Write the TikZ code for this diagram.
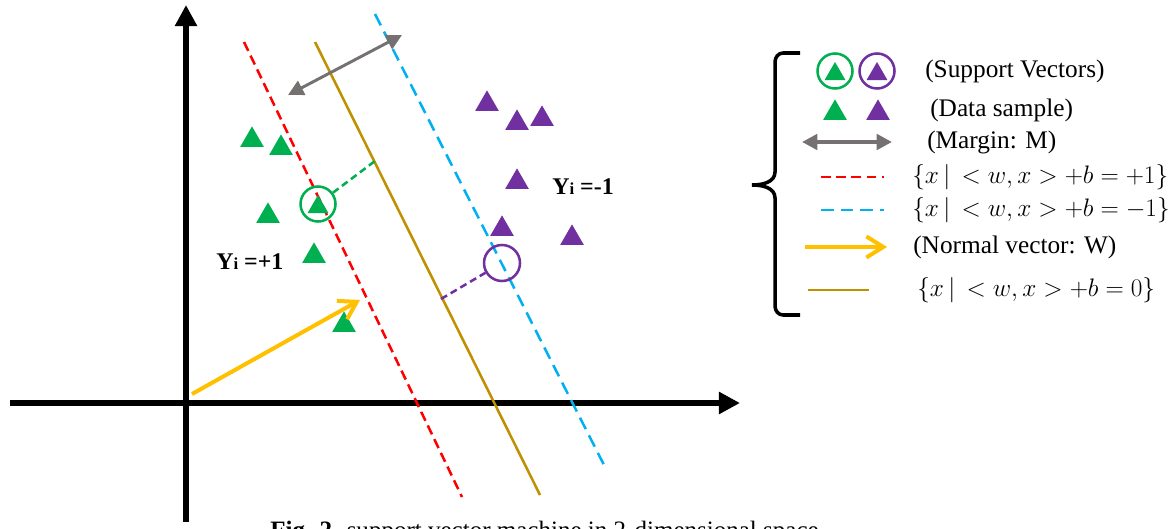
\RequirePackage{fix-cm}
\documentclass[tikz,border=0pt]{standalone}
\usepackage{fontspec}
\setmainfont{Liberation Serif}
\usepackage{tikz}
\usetikzlibrary{arrows.meta,shapes.geometric}
\definecolor{svmgreen}{HTML}{00B050}
\definecolor{svmpurple}{HTML}{7030A0}
\definecolor{svmblue}{HTML}{00B0F0}
\definecolor{svmgold}{HTML}{BF9000}
\definecolor{svmyellow}{HTML}{FFC000}
\definecolor{svmgray}{HTML}{767171}

\begin{document}
\begin{tikzpicture}[
    x=0.025cm, y=0.025cm, line cap=butt,
    axis/.style     ={line width=4.3pt, -{Triangle[length=15pt,width=15pt]}},
    gtri/.style     ={regular polygon, regular polygon sides=3, fill=svmgreen, inner sep=0pt, minimum size=0.68cm},
    ptri/.style     ={gtri, fill=svmpurple},
    svtri/.style    ={regular polygon, regular polygon sides=3, inner sep=0pt, minimum size=0.6cm},
    svring/.style   ={circle, draw, line width=1.8pt, minimum size=0.875cm, inner sep=0pt},
    plusline/.style ={draw=red, line width=1.8pt, dash pattern=on 7pt off 3.8pt},
    minusline/.style={draw=svmblue, line width=1.8pt, dash pattern=on 9pt off 5pt},
    hypline/.style  ={draw=svmgold, line width=1.8pt},
    normvec/.style  ={draw=svmyellow, line width=2.85pt, -{Straight Barb[length=12pt,width=15pt]}},
    margin/.style   ={draw=svmgray, line width=2.1pt, {Triangle[length=11pt,width=11pt]}-{Triangle[length=11pt,width=11pt]}},
    legtxt/.style   ={anchor=west, inner sep=0pt, font=\fontsize{18}{20}\selectfont},
    ylab/.style     ={anchor=west, inner sep=0pt, font=\fontsize{17}{19}\selectfont\bfseries}
]
\useasboundingbox (0,0) rectangle (1174,528);

% axes
\coordinate (xl) at (10,125);
\coordinate (xr) at (740,125);
\coordinate (yb) at (186,6);
\coordinate (yt) at (186,523);
\draw[axis] (xl) -- (xr);
\draw[axis] (yb) -- (yt);

% hyperplanes
\coordinate (rtop) at (244,486);  \coordinate (rbot) at (462,31);
\coordinate (htop) at (315,486);  \coordinate (hbot) at (540,33);
\coordinate (btop) at (375,514);  \coordinate (bbot) at (604,63);
\draw[plusline] (rtop) -- (rbot);
\draw[hypline] (htop) -- (hbot);
\draw[minusline] (btop) -- (bbot);

% data samples
\foreach \n/\px/\py in {1/252/388, 2/281/380, 3/268/312, 4/314/272, 5/344/203}
  \node[gtri] (g\n) at (\px,\py) {};
\foreach \n/\px/\py in {1/487/424, 2/517/405, 3/542/409, 4/517/346, 5/502/299, 6/572/290}
  \node[ptri] (p\n) at (\px,\py) {};

% support vectors
\node[svtri, fill=svmgreen] (gsv) at (318,321) {};
\node[svring, draw=svmgreen] (gring) at (318,324) {};
\node[svring, draw=svmpurple, minimum size=0.9cm] (pring) at (502,265) {};

% distances to the hyperplane
\coordinate (gfoot) at (375,367);
\coordinate (pfoot) at (441,229);
\draw[svmgreen, line width=1.8pt, dash pattern=on 5pt off 3pt] (gring) -- (gfoot);
\draw[svmpurple, line width=1.8pt, dash pattern=on 5pt off 3pt] (pfoot) -- (pring);

% margin and normal vector
\coordinate (ma) at (288,433);
\coordinate (mb) at (402,493);
\draw[margin] (ma) -- (mb);
\coordinate (wo) at (192,134);
\coordinate (wt) at (360,228);
\draw[normvec] (wo) -- (wt);

% class labels
\node[ylab] (ypos) at (216,266) {Y{\fontsize{12}{14}\selectfont i} =+1};
\node[ylab] (yneg) at (552,341) {Y{\fontsize{12}{14}\selectfont i} =-1};

% legend brace
\draw[line width=2.5pt] (800,475) -- (783,475) to[out=180,in=90] (775,466) -- (775,356)
  to[out=-90,in=0] (752,343) to[out=0,in=90] (775,330) -- (775,222)
  to[out=-90,in=180] (783,213) -- (800,213);

% legend rows
\node[svtri, fill=svmgreen] (lgsv) at (835,454) {};
\node[svring, draw=svmgreen] (lgring) at (835,457) {};
\node[svtri, fill=svmpurple] (lpsv) at (877,454) {};
\node[svring, draw=svmpurple] (lpring) at (877,457) {};
\node[legtxt] (lsv) at (925,457) {(Support Vectors)};

\node[gtri] (lg) at (835,415) {};
\node[ptri] (lp) at (878,415) {};
\node[legtxt] (ldata) at (930,418) {(Data sample)};

\draw[margin, line width=2.8pt] (802,386) -- (892,386);
\node[legtxt] (lmargin) at (927,386) {(Margin: M)};

\draw[plusline] (821,351) -- (884,351);
\node[legtxt] (lplus) at (912,351) {$\{x\,\big|\, < w, x > +b = +1\}$};

\draw[minusline] (821,318) -- (884,318);
\node[legtxt] (lminus) at (912,318) {$\{x\,\big|\, < w, x > +b = -1\}$};

\draw[normvec] (805,281) -- (887,281);
\node[legtxt] (lnorm) at (913,281) {(Normal vector: W)};

\draw[hypline] (808,238) -- (869,238);
\node[legtxt] (lhyp) at (917,238) {$\{x\,\big|\, < w, x > +b = 0\}$};

% caption, cut by the lower edge
\node[anchor=base west, inner sep=0pt, font=\fontsize{17.8}{20}\selectfont] (caption) at (270,-10)
  {\textbf{Fig. 2.} support vector machine in 2-dimensional space};
\end{tikzpicture}
\end{document}
